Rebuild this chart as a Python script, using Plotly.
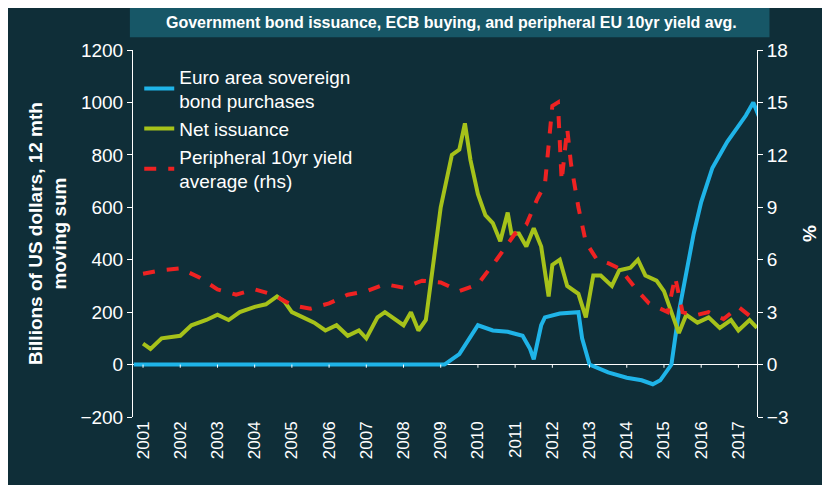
import plotly.graph_objects as go

pur_t = [2000.75,2009.1,2009.5,2010.0,2010.4,2010.8,2011.2,2011.4,2011.5,2011.7,2011.8,2012.2,2012.7,2012.8,2013.0,2013.5,2014.0,2014.4,2014.7,2014.9,2015.2,2015.4,2015.8,2016.0,2016.3,2016.7,2017.2,2017.4,2017.6]
pur_v = [0,0,40,150,130,125,110,60,20,150,180,195,200,100,0,-30,-50,-60,-75,-60,0,200,500,620,750,850,950,1000,930]

iss_t = [2001.0,2001.2,2001.5,2002.0,2002.3,2002.7,2003.0,2003.3,2003.6,2004.0,2004.3,2004.6,2004.8,2005.0,2005.3,2005.6,2005.9,2006.2,2006.5,2006.8,2007.0,2007.3,2007.5,2007.8,2008.0,2008.2,2008.4,2008.6,2008.8,2009.0,2009.3,2009.5,2009.65,2009.8,2010.0,2010.2,2010.4,2010.6,2010.8,2010.9,2011.1,2011.3,2011.5,2011.7,2011.9,2012.0,2012.2,2012.4,2012.7,2012.9,2013.1,2013.3,2013.6,2013.8,2014.1,2014.3,2014.5,2014.8,2015.0,2015.2,2015.4,2015.6,2015.9,2016.2,2016.5,2016.8,2017.0,2017.3,2017.5]
iss_v = [80,60,100,110,150,170,190,170,200,220,230,260,240,200,180,160,130,150,110,130,100,180,200,170,150,200,130,170,400,600,800,820,920,780,650,570,540,470,580,500,500,450,520,450,260,380,400,300,270,180,340,340,300,360,370,400,340,320,280,200,120,190,160,180,140,170,130,170,140]

yld_t = [2001.0,2001.5,2002.0,2002.5,2003.0,2003.5,2004.0,2004.5,2005.0,2005.5,2006.0,2006.5,2007.0,2007.5,2008.0,2008.5,2009.0,2009.5,2010.0,2010.5,2011.0,2011.3,2011.6,2011.8,2012.0,2012.15,2012.25,2012.4,2012.5,2012.7,2012.9,2013.2,2013.5,2013.8,2014.0,2014.3,2014.6,2014.9,2015.1,2015.3,2015.5,2015.8,2016.2,2016.6,2017.0,2017.3,2017.7]
yld_v = [5.2,5.4,5.5,5.0,4.3,4.0,4.3,4.0,3.4,3.2,3.5,4.0,4.2,4.6,4.4,4.8,4.7,4.2,4.6,6.0,7.5,8.0,9.5,10.3,14.8,15.0,10.5,13.5,11.5,9.0,7.0,6.0,5.8,5.5,5.0,4.2,3.5,3.2,3.0,5.0,3.0,2.8,3.0,2.6,3.3,2.8,2.4]

years = list(range(2001, 2018))

F = "Liberation Sans Narrow, Liberation Sans, Arial"
fig = go.Figure()
fig.add_trace(go.Scatter(x=pur_t, y=pur_v, name="Euro area sovereign<br>bond purchases", line=dict(color="#1fb4e8", width=4)))
fig.add_trace(go.Scatter(x=iss_t, y=iss_v, name="Net issuance", line=dict(color="#a6c21a", width=4)))
fig.add_trace(go.Scatter(x=yld_t, y=yld_v, name="Peripheral 10yr yield<br>average (rhs)", yaxis="y2", line=dict(color="#ee2222", width=4, dash="dash")))

fig.update_layout(
    width=830, height=485, paper_bgcolor="#0f2e38", plot_bgcolor="#0f2e38",
    margin=dict(l=125, r=73, t=50, b=68),
    font=dict(family=F, color="white", size=19),
    showlegend=True,
    legend=dict(x=0.01, y=0.98, xanchor="left", yanchor="top", bgcolor="rgba(0,0,0,0)", font=dict(size=19), tracegroupgap=12, itemwidth=30),
    xaxis=dict(range=[2000.73, 2017.5], tickvals=years, ticktext=[str(y) for y in years], tickangle=-90,
               showgrid=False, zeroline=False, showline=False, ticks="", tickfont=dict(size=17)),
    yaxis=dict(range=[-200, 1200], dtick=200, showgrid=False, zeroline=True, zerolinecolor="white", zerolinewidth=1,
               showline=True, linecolor="white", ticks="outside", tickcolor="white", ticklen=5,
               title=dict(text="<b>Billions of US dollars, 12 mth<br>moving sum</b>", font=dict(size=19), standoff=8)),
    yaxis2=dict(range=[-3, 18], dtick=3, overlaying="y", side="right", showgrid=False, zeroline=False,
                showline=True, linecolor="white", ticks="outside", tickcolor="white", ticklen=5,
                title=dict(text="<b>%</b>", font=dict(size=19))),
    shapes=[dict(type="rect", xref="paper", yref="paper", x0=-0.005, x1=1.02, y0=1.035, y1=1.115, fillcolor="#175767", line=dict(width=0), layer="below")]
    + [dict(type="line", x0=y, x1=y, yref="y", y0=0, y1=-12, line=dict(color="white", width=1)) for y in years],
    annotations=[dict(text="<b>Government bond issuance, ECB buying, and peripheral EU 10yr yield avg.</b>", xref="paper", yref="paper",
                      x=0.51, y=1.075, showarrow=False, font=dict(size=16, family="Liberation Sans Narrow, Liberation Sans"), xanchor="center", yanchor="middle")],
)
fig.update_layout(margin=dict(l=125, r=81, t=42, b=76))
fig.write_html("out.html")
